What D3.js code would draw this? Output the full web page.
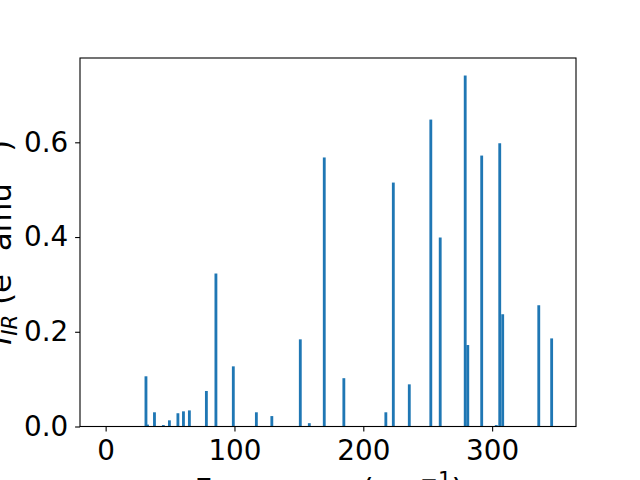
<!DOCTYPE html>
<html>
<head>
<meta charset="utf-8">
<script src="https://cdn.jsdelivr.net/npm/d3@7"></script>
<style>
  html, body { margin: 0; padding: 0; background: #fff; }
  svg { display: block; font-family: "DejaVu Sans", sans-serif; }
</style>
</head>
<body>
<svg id="chart" width="640" height="480"></svg>
<script>
// Data
const frequencies = [31.3, 32.5, 37.9, 44.8, 49.5, 56.1, 60.4, 65.0, 78.2, 85.6,
                     99.1, 117.0, 129.0, 151.1, 158.1, 169.7, 184.9, 217.5, 223.3, 235.7,
                     252.4, 259.7, 279.1, 281.1, 291.9, 303.2, 305.9, 308.2, 336.2, 346.2];
const intensities = [0.106, 0.004, 0.030, 0.003, 0.013, 0.028, 0.032, 0.034, 0.075, 0.323,
                     0.127, 0.030, 0.022, 0.184, 0.007, 0.568, 0.102, 0.030, 0.515, 0.089,
                     0.648, 0.399, 0.741, 0.172, 0.572, 0.003, 0.598, 0.237, 0.256, 0.186];
const xTicks = [0, 100, 200, 300];
const yTicks = [0.0, 0.2, 0.4, 0.6];
const barWidth = 2.2;

const svg = d3.select("#chart");
const pLeft = 80, pRight = 576, pTop = 58, pBottom = 426.5;
const fontSize = 27.8;
const labelSize = 30.5;

const x = d3.scaleLinear().domain([-19.9, 365.1]).range([pLeft, pRight]);
const y = d3.scaleLinear().domain([0, 0.778]).range([pBottom, pTop]);

const data = frequencies.map((f, i) => ({f, v: intensities[i]}));

svg.append("g").selectAll("rect").data(data).enter().append("rect")
  .attr("x", d => x(d.f - barWidth / 2))
  .attr("width", d => x(d.f + barWidth / 2) - x(d.f - barWidth / 2))
  .attr("y", d => y(d.v))
  .attr("height", d => y(0) - y(d.v))
  .attr("fill", "#1f77b4");

// Axes
const xAxis = d3.axisBottom(x).tickValues(xTicks).tickFormat(d3.format("d")).tickSize(4.9).tickPadding(8.5);
const yAxis = d3.axisLeft(y).tickValues(yTicks).tickFormat(d3.format(".1f")).tickSize(4.9).tickPadding(6.8);

const gx = svg.append("g").attr("transform", `translate(0,${pBottom})`).call(xAxis);
const gy = svg.append("g").attr("transform", `translate(${pLeft},0)`).call(yAxis);
[gx, gy].forEach(g => {
  g.select(".domain").remove();
  g.selectAll(".tick line").attr("stroke", "#000").attr("stroke-width", 1.1);
  g.selectAll(".tick text").attr("fill", "#000").attr("font-size", fontSize)
    .attr("font-family", "DejaVu Sans, sans-serif");
});

// Frame
svg.append("rect")
  .attr("x", pLeft).attr("y", pTop)
  .attr("width", pRight - pLeft).attr("height", pBottom - pTop)
  .attr("fill", "none").attr("stroke", "#000").attr("stroke-width", 1.1);

// X label (partly below the visible area, as in the reference)
const xl = svg.append("text")
  .attr("x", (pLeft + pRight) / 2 + 1).attr("y", 500)
  .attr("text-anchor", "middle").attr("font-size", labelSize).attr("fill", "#000");
xl.append("tspan").text("Frequency (cm");
xl.append("tspan").attr("font-size", labelSize * 0.7).attr("dy", -13).text("−1");
xl.append("tspan").attr("dy", 13).text(")");

// Y label (partly beyond the left edge, as in the reference)
const yl = svg.append("text")
  .attr("transform", `translate(11,${(pTop + pBottom) / 2}) rotate(-90)`)
  .attr("text-anchor", "middle").attr("font-size", labelSize).attr("fill", "#000");
yl.append("tspan").attr("font-style", "italic").text("I");
yl.append("tspan").attr("font-style", "italic").attr("font-size", labelSize * 0.7).attr("dy", 6).text("IR");
yl.append("tspan").attr("dy", -6).text(" (e");
yl.append("tspan").attr("font-size", labelSize * 0.7).attr("dy", -13).text("2");
yl.append("tspan").attr("dy", 13).text(" amu");
yl.append("tspan").attr("font-size", labelSize * 0.7).attr("dy", -13).text("−1");
yl.append("tspan").attr("dy", 13).text(")");
</script>
</body>
</html>
